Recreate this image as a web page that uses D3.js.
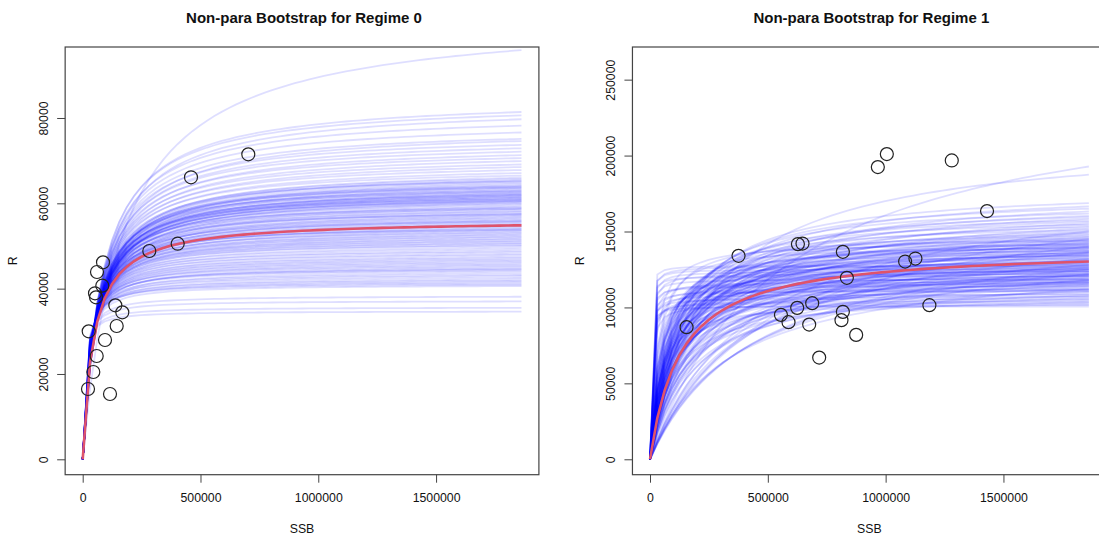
<!DOCTYPE html>
<html>
<head>
<meta charset="utf-8">
<script src="https://cdn.jsdelivr.net/npm/d3@7"></script>
<style>
  body { margin: 0; background: #fff; }
  svg { display: block; font-family: "Liberation Sans", Arial, Helvetica, sans-serif; }
</style>
</head>
<body>
<svg id="chart" width="1099" height="539"></svg>
<script>
// ---- data ----
const titles = ["Non-para Bootstrap for Regime 0", "Non-para Bootstrap for Regime 1"];
const ssbTicks = [0, 500000, 1000000, 1500000];
const rTicks0 = [0, 20000, 40000, 60000, 80000];
const rTicks1 = [0, 50000, 100000, 150000, 200000, 250000];

// curves are drawn from SSB = 0 up to this value
const ssbMax = 1862500;

// observed points, regime 0
const regime0SSB = [702900, 459700, 403200, 282700, 86200, 60700, 83200, 52200, 56500, 138400,
  168100, 144300, 25500, 94700, 59400, 45000, 22500, 115900];
const regime0R = [71490, 66100, 50530, 48820, 46170, 43900, 40690, 38910, 37970, 36090,
  34450, 31240, 30000, 27960, 24210, 20460, 16480, 15300];

// observed points, regime 1
const regime1SSB = [155200, 375700, 627700, 647200, 818500, 835500, 555600, 587800, 624700, 688300,
  675600, 818500, 812600, 874900, 718000, 966900, 1005100, 1280700, 1430400, 1082700, 1126400, 1185700];
const regime1R = [86990, 133980, 141690, 142080, 136620, 119480, 95100, 90290, 99710, 102810,
  88710, 97080, 91610, 81920, 66960, 192440, 201000, 196780, 163440, 130220, 132200, 101490];

// fitted Beverton-Holt curves [asymptote, half-saturation SSB]
const regime0Fit = [56190, 45800];
const regime1Fit = [139200, 128400];

// bootstrap curves: R at the right end of the curve, and half-saturation SSB
const regime0BootEnd = [95900, 81400, 80600, 79700, 78200, 76600, 75100, 74600, 73700, 72900,
  72100, 71300, 70600, 69900, 69100, 68500, 67800, 67100, 66500,
  66000, 65700, 65400, 65100, 64800, 64500, 64200, 63900, 63600, 63400,
  63100, 62800, 62500, 62300, 62000, 61800, 61500, 61300, 61000, 60800,
  60600, 60400, 60200, 60000, 63000, 64000, 61600, 62700, 65200, 60900,
  61900, 62200, 63700, 60500, 61200,
  59800, 59500, 59200, 59000, 58700, 58500, 58200, 58000, 57700, 57500,
  57200, 57000, 56700, 56500, 56200, 56000, 55700, 55500, 55200, 55000,
  54700, 54500, 54200, 54000, 53700, 53500, 53200, 53000, 52700, 52500,
  52200, 52000, 51700, 51500, 51200, 51000, 50700, 50500, 50200, 50000,
  49600, 49200, 48800, 48500, 48100, 47800, 47400, 47100, 46800, 46500,
  46200, 58800, 57400, 55800, 53800,
  45900, 45600, 45300, 45000, 44700, 44300, 44000, 43600, 43200, 42900,
  42500, 42100, 41800, 41500, 41200, 40900, 40600, 44500,
  38100, 37000, 35500, 34600];
const regime0BootHalf = [167000, 82000, 79000, 84000, 76000, 73000, 71000, 76000, 68000, 70000,
  66000, 69000, 63000, 67000, 61000, 65000, 59000, 62000, 57000,
  64000, 60000, 63000, 58000, 61000, 64000, 57000, 59000, 55000, 62000,
  56000, 58000, 53000, 60000, 54000, 57000, 52000, 58000, 51000, 55000,
  53000, 50000, 56000, 51000, 52000, 55000, 59000, 50000, 56000, 48000,
  53000, 56000, 54000, 52000, 49000,
  51000, 48000, 53000, 46000, 50000, 47000, 52000, 45000, 49000, 44000,
  47000, 51000, 43000, 46000, 42000, 48000, 44000, 41000, 45000, 40000,
  43000, 38000, 42000, 39000, 36000, 41000, 37000, 35000, 39000, 34000,
  36000, 33000, 37000, 32000, 34000, 31000, 33000, 30000, 32000, 29000,
  31000, 28000, 29000, 26000, 27000, 25000, 26000, 24000, 25000, 23000,
  24000, 43000, 41000, 38000, 33000,
  22000, 23000, 21000, 20000, 22000, 19000, 18000, 20000, 17000, 18000,
  16000, 17000, 15000, 16000, 14000, 13000, 15000, 21000,
  11000, 9500, 8000, 7000];

const regime1BootEnd = [192800, 187400,
  168700, 166500, 165000, 163200, 161800, 160300,
  159400, 158300, 157200, 156400, 155300, 154500, 153600, 152700, 151800, 150900,
  150100, 149300, 148500, 147800, 147000,
  146400, 145900, 145300, 144800, 144200, 143700, 143100, 142600, 142000, 141500,
  141000, 140500, 140000, 139500, 139000, 138500, 138000, 137500, 137000, 136500,
  136000, 135500, 135000, 134500, 134000, 133500, 133000, 132500, 132000, 131500,
  131000, 130500, 130000, 129500, 129000, 128500, 128000, 127500, 127000, 126500,
  126000, 125500, 125000, 124500, 124000, 123500, 123000, 122500, 122000, 121500,
  121000, 120500, 120000, 119500, 119000, 118500, 118000, 117500, 117000, 116500,
  116000, 115500, 115000, 114500, 114000, 144000, 141200, 138800, 136200, 133800,
  131200, 128800, 126200, 123800, 121200, 118800, 116200, 139800, 134800, 129800,
  125200, 120800, 117200, 142300, 137300,
  127500, 126800, 125000, 123600, 122000, 120500, 118200, 116500, 115000, 113700,
  112000, 110500, 108300, 107000, 105500, 104000, 102800, 101500, 100600, 111200,
  113200, 112400, 111600, 110800, 110000, 109000, 108000, 107200, 106000, 104800,
  103500, 102000,
  125000, 132000, 118000, 140000, 128000, 122000, 136000, 145000, 112000, 150000];
const regime1BootHalf = [560000, 250000,
  122000, 140000, 110000, 160000, 98000, 130000,
  105000, 150000, 90000, 120000, 175000, 80000, 135000, 100000, 185000, 70000,
  115000, 145000, 85000, 125000, 60000,
  95000, 140000, 75000, 110000, 160000, 55000, 100000, 130000, 80000, 170000,
  65000, 115000, 90000, 145000, 50000, 105000, 125000, 70000, 190000, 85000,
  110000, 45000, 135000, 95000, 60000, 155000, 75000, 120000, 40000, 100000,
  140000, 65000, 85000, 175000, 35000, 110000, 55000, 130000, 80000, 200000,
  30000, 95000, 60000, 150000, 45000, 115000, 70000, 210000, 25000, 90000,
  130000, 50000, 165000, 75000, 20000, 105000, 40000, 185000, 60000, 140000,
  30000, 95000, 220000, 50000, 120000, 35000, 22000, 28000, 160000, 48000,
  180000, 70000, 115000, 35000, 195000, 82000, 160000, 62000, 88000, 45000,
  125000, 55000, 100000, 118000, 42000,
  1500, 2500, 2000, 3000, 4000, 1800, 2500, 5000, 3000, 2200,
  4500, 2800, 3500, 6000, 2500, 4000, 3000, 5500, 2000, 7000,
  90000, 150000, 60000, 200000, 110000, 45000, 170000, 80000, 130000, 60000,
  100000, 40000,
  450000, 400000, 380000, 480000, 350000, 420000, 360000, 500000, 330000, 440000];

// ---- drawing ----
const svg = d3.select("#chart");
const ssbDomain = [-74500, 1936500];
const steps = d3.range(0, 61).map(i => ssbMax * i / 60);

function drawPanel(cfg) {
  const g = svg.append("g");
  const x = d3.scaleLinear().domain(ssbDomain).range([cfg.left, cfg.right]);
  const y = d3.scaleLinear().domain(cfg.yDomain).range([474.7, 47]);
  const mid = (cfg.left + cfg.right) / 2;

  const line = d3.line().x(d => x(d[0])).y(d => y(d[1]));
  const bh = (a, b) => steps.map(s => [s, a * s / (b + s)]);

  // bootstrap curves
  const boot = cfg.bootEnd.map((end, i) => {
    const b = cfg.bootHalf[i];
    return { a: end * (b + ssbMax) / ssbMax, b: b };
  });
  g.append("g").selectAll("path")
    .data(boot)
    .join("path")
    .attr("d", d => line(bh(d.a, d.b)))
    .attr("fill", "none")
    .attr("stroke", "rgba(0,0,255,0.13)")
    .attr("stroke-width", 1.8);

  // fitted curve
  g.append("path")
    .attr("d", line(bh(cfg.fit[0], cfg.fit[1])))
    .attr("fill", "none")
    .attr("stroke", "#DF536B")
    .attr("stroke-width", 2.6);

  // points
  g.append("g").selectAll("circle")
    .data(cfg.ssb.map((s, i) => [s, cfg.r[i]]))
    .join("circle")
    .attr("cx", d => x(d[0]))
    .attr("cy", d => y(d[1]))
    .attr("r", 6.5)
    .attr("fill", "none")
    .attr("stroke", "#222")
    .attr("stroke-width", 1.2);

  // box
  g.append("rect")
    .attr("x", cfg.left).attr("y", 47)
    .attr("width", cfg.right - cfg.left).attr("height", 474.7 - 47)
    .attr("fill", "none").attr("stroke", "#444").attr("stroke-width", 1.2);

  // x axis
  const xAxis = g.append("g")
    .attr("transform", "translate(0,474.7)")
    .call(d3.axisBottom(x).tickValues(ssbTicks).tickSize(8).tickPadding(10.5).tickFormat(d3.format("d")));
  xAxis.select(".domain").remove();

  // y axis, labels parallel to the axis
  const yAxis = g.append("g")
    .attr("transform", `translate(${cfg.left},0)`)
    .call(d3.axisLeft(y).tickValues(cfg.yTicks).tickSize(8).tickFormat(d3.format("d")));
  yAxis.select(".domain").remove();
  yAxis.selectAll("text")
    .attr("x", null).attr("dy", null)
    .attr("text-anchor", "middle")
    .attr("transform", "translate(-17.4,0) rotate(-90)");

  g.selectAll(".tick line").attr("stroke", "#444");
  g.selectAll(".tick text").attr("font-size", "12.3px").attr("fill", "#111")
    .attr("font-family", "Liberation Sans, Arial, sans-serif");

  // titles and axis names
  g.append("text")
    .attr("x", mid + 2).attr("y", 23)
    .attr("text-anchor", "middle")
    .attr("font-size", "15px").attr("font-weight", "bold").attr("fill", "#111")
    .text(cfg.title);
  g.append("text")
    .attr("x", mid).attr("y", 533)
    .attr("text-anchor", "middle")
    .attr("font-size", "12.3px").attr("fill", "#111")
    .text("SSB");
  g.append("text")
    .attr("transform", `translate(${cfg.left - 48.5},${(474.7 + 47) / 2}) rotate(-90)`)
    .attr("text-anchor", "middle")
    .attr("font-size", "12.3px").attr("fill", "#111")
    .text("R");
}

drawPanel({
  left: 65.15, right: 538.9,
  yDomain: [-3610, 96640], yTicks: rTicks0,
  title: titles[0],
  ssb: regime0SSB, r: regime0R,
  fit: regime0Fit,
  bootEnd: regime0BootEnd, bootHalf: regime0BootHalf
});

drawPanel({
  left: 632.45, right: 1106.3,
  yDomain: [-10150, 271500], yTicks: rTicks1,
  title: titles[1],
  ssb: regime1SSB, r: regime1R,
  fit: regime1Fit,
  bootEnd: regime1BootEnd, bootHalf: regime1BootHalf
});
</script>
</body>
</html>
